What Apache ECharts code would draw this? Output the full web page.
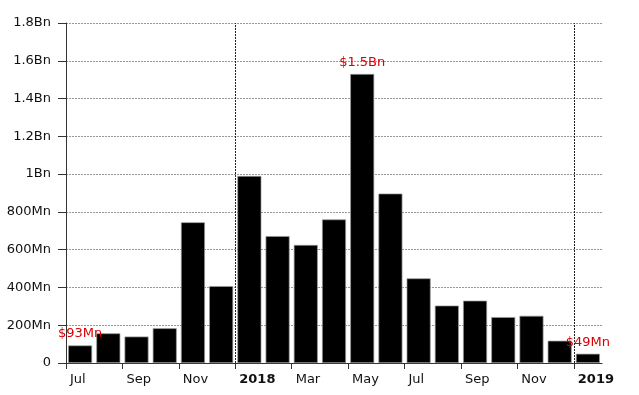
<!DOCTYPE html>
<html>
<head>
<meta charset="utf-8">
<script src="https://cdn.jsdelivr.net/npm/echarts@6/dist/echarts.min.js"></script>
<style>
html,body{margin:0;padding:0;background:#fff;}
#chart{width:639px;height:395px;}
</style>
</head>
<body>
<div id="chart"></div>
<script>
// Monthly values, Jul 2017 .. Jan 2019
var months = ['2017-07','2017-08','2017-09','2017-10','2017-11','2017-12',
  '2018-01','2018-02','2018-03','2018-04','2018-05','2018-06',
  '2018-07','2018-08','2018-09','2018-10','2018-11','2018-12','2019-01'];
var values = [93e6, 157e6, 140e6, 184e6, 745e6, 407e6,
  990e6, 672e6, 625e6, 760e6, 1530e6, 897e6,
  448e6, 304e6, 330e6, 243e6, 250e6, 118e6, 49e6];
var barAnnotations = ['$93Mn','','','','','', '','','','','$1.5Bn','', '','','','','','','$49Mn'];
var xTickIndexes = [0,2,4,6,8,10,12,14,16,18];
var xTickLabels = ['Jul','Sep','Nov','2018','Mar','May','Jul','Sep','Nov','2019'];
var yearStartIndexes = [6,18];
var yTickValues = [0,2e8,4e8,6e8,8e8,1e9,1.2e9,1.4e9,1.6e9,1.8e9];
var yTickLabels = ['0','200Mn','400Mn','600Mn','800Mn','1Bn','1.2Bn','1.4Bn','1.6Bn','1.8Bn'];

var FONT = 'DejaVu Sans, Verdana, sans-serif';
var chart = echarts.init(document.getElementById('chart'), null, {renderer:'canvas'});
chart.setOption({
  animation: false,
  backgroundColor: '#fff',
  grid: {left: 66, top: 23, width: 536, height: 340, containLabel: false},
  xAxis: [{
    type: 'category',
    data: months,
    position: 'bottom',
    boundaryGap: true,
    axisLine: {show: false},
    axisTick: {show: false},
    axisLabel: {show: false},
    splitLine: {show: false}
  }, {
    type: 'value',
    position: 'bottom',
    min: 0,
    max: months.length,
    axisLine: {show: true, lineStyle: {color: '#333', width: 1}},
    axisTick: {show: true, length: 6, customValues: xTickIndexes, lineStyle: {color: '#333'}},
    splitLine: {show: false},
    axisLabel: {
      customValues: xTickIndexes,
      align: 'left',
      padding: [0, 0, 0, 4],
      margin: 10,
      fontFamily: FONT,
      fontSize: 13,
      color: '#111',
      formatter: function (v) {
        var i = xTickIndexes.indexOf(Math.round(v));
        if (i < 0) return '';
        var t = xTickLabels[i];
        return /^\d{4}$/.test(t) ? '{b|' + t + '}' : t;
      },
      rich: {b: {fontWeight: 'bold', fontFamily: FONT, fontSize: 13, color: '#111'}}
    }
  }],
  yAxis: {
    type: 'value',
    min: 0,
    max: 1.8e9,
    interval: 2e8,
    axisLine: {show: true, lineStyle: {color: '#333', width: 1}},
    axisTick: {show: true, length: 8, lineStyle: {color: '#333'}},
    axisLabel: {
      margin: 15,
      fontFamily: FONT,
      fontSize: 13,
      color: '#111',
      formatter: function (v) {
        var i = yTickValues.indexOf(v);
        return i >= 0 ? yTickLabels[i] : '';
      }
    },
    splitLine: {show: true, lineStyle: {color: '#999', width: 1, type: [2, 1]}}
  },
  series: [{
    type: 'bar',
    xAxisIndex: 0,
    data: values,
    barWidth: '85%',
    itemStyle: {color: '#000', borderColor: '#999', borderWidth: 0.7},
    label: {
      show: true,
      position: 'top',
      distance: 5,
      fontFamily: FONT,
      fontSize: 13,
      color: '#d80000',
      formatter: function (p) { return barAnnotations[p.dataIndex]; }
    }
  }, {
    type: 'line',
    xAxisIndex: 1,
    data: [],
    silent: true,
    markLine: {
      silent: true,
      symbol: ['none', 'none'],
      label: {show: false},
      lineStyle: {color: '#222', width: 1, type: [2, 1]},
      data: yearStartIndexes.map(function (i) { return {xAxis: i}; })
    }
  }]
});
</script>
</body>
</html>
